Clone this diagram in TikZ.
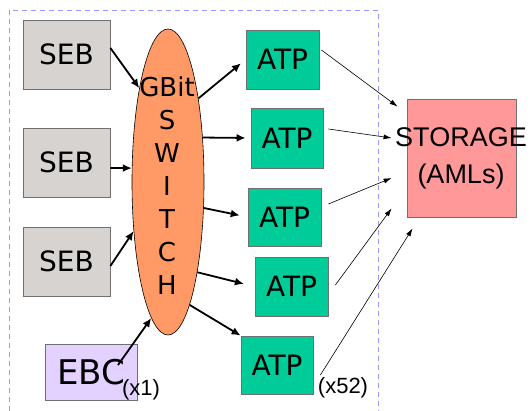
\documentclass[tikz,border=0pt]{standalone}
\usepackage{fontspec}
\setmainfont{DejaVu Sans}
\newfontfamily\arialf{Liberation Sans}
\usetikzlibrary{shapes.geometric,arrows.meta}
\definecolor{sebgray}{HTML}{D6D3D0}
\definecolor{bordgray}{HTML}{707070}
\definecolor{atpgreen}{HTML}{00CC99}
\definecolor{storpink}{HTML}{FF9999}
\definecolor{ebclilac}{HTML}{E3D1FF}
\definecolor{swor}{HTML}{FF9966}
\definecolor{dashblue}{HTML}{9999FF}
\tikzset{
  sebbox/.style={draw=bordgray,line width=0.8pt,fill=sebgray,minimum width=87pt,minimum height=69pt,inner sep=0pt,font=\fontsize{28}{30}\selectfont},
  atpbox/.style={draw=bordgray,line width=0.8pt,fill=atpgreen,minimum width=73pt,minimum height=59pt,inner sep=0pt,font=\fontsize{28}{30}\selectfont},
  thick arrow/.style={line width=1.8pt,-{Latex[length=9pt,width=8pt]}},
  thin arrow/.style={line width=0.6pt,-{Latex[length=8pt,width=5pt]}},
  small lbl/.style={font=\arialf\fontsize{22}{24}\selectfont,inner sep=0pt}
}
\begin{document}
\begin{tikzpicture}[x=1pt,y=-1pt]
\useasboundingbox (0,0) rectangle (530,411);
% dashed frame
\draw[dashblue,dashed,line width=0.9pt,dash pattern=on 5pt off 4pt] (9,420) -- (9,10) -- (378,10) -- (378,420);
% SEBs
\node[sebbox] (seb1) at (66.5,54.5) {SEB};
\node[sebbox] (seb2) at (66.5,162.5) {SEB};
\node[sebbox] (seb3) at (66.5,261.5) {SEB};
% EBC
\node[draw=bordgray,line width=0.8pt,fill=ebclilac,minimum width=92pt,minimum height=56pt,inner sep=0pt,font=\fontsize{34}{36}\selectfont] (ebc) at (91,372) {EBC};
\node[small lbl] (x1) at (141,390) {(x1)};
% switch
\node[ellipse,draw=black,line width=0.6pt,fill=swor,minimum width=72pt,minimum height=306pt,inner sep=0pt] (sw) at (168,182) {};
\node[align=center,inner sep=0pt,font=\fontsize{26}{33}\selectfont] (swt) at (167,186) {GBit\\S\\W\\I\\T\\C\\H};
% ATPs
\node[atpbox] (atp1) at (282.5,59.5) {ATP};
\node[atpbox,minimum width=72pt,minimum height=60pt] (atp2) at (287,138) {ATP};
\node[atpbox,minimum height=58pt] (atp3) at (284.5,217) {ATP};
\node[atpbox] (atp4) at (291.5,286.5) {ATP};
\node[atpbox,minimum width=72pt,minimum height=58pt] (atp5) at (277,365) {ATP};
\node[small lbl] (x52) at (343,388) {(x52)};
% storage
\node[draw=bordgray,line width=0.8pt,fill=storpink,minimum width=109pt,minimum height=118pt,inner sep=0pt] (st) at (461.5,158) {};
\node[align=center,inner sep=0pt,font=\arialf\fontsize{27}{37}\selectfont] (stt) at (461,158) {STORAGE\\(AMLs)};
% inputs to switch
\draw[thick arrow] ([yshift=6.5pt]seb1.east) -- (sw.107.5);
\draw[thick arrow] ([yshift=-5.5pt]seb2.east) -- (sw.159.8);
\draw[thick arrow] ([yshift=-4.5pt]seb3.east) -- (sw.235.8);
\draw[thick arrow] ([shift={(27pt,7pt)}]ebc.center) -- (sw.263.6);
% switch to ATPs
\draw[thick arrow,shorten >=6pt] (sw.70.5) -- (atp1.west);
\draw[thick arrow,shorten >=5pt] (sw.52) -- (atp2.west);
\draw[thick arrow,shorten >=8pt] (sw.324.5) -- (atp3.west);
\draw[thick arrow,shorten >=11pt] (sw.288.8) -- (atp4.west);
\draw[thick arrow] (sw.280.1) -- (atp5.north west);
% ATPs to storage
\draw[thin arrow] ([shift={(2pt,9.5pt)}]atp1.east) -- ([shift={(-9pt,-8pt)}]st.north west);
\draw[thin arrow] ([shift={(5pt,9pt)}]atp2.east) -- ([shift={(-15pt,20pt)}]st.west);
\draw[thin arrow] ([shift={(7pt,13pt)}]atp3.east) -- ([shift={(-15pt,-20pt)}]st.west);
\draw[thin arrow] ([shift={(7pt,1.5pt)}]atp4.east) -- ([shift={(-15pt,9pt)}]st.south west);
\draw[thin arrow] ([shift={(7pt,-10pt)}]atp5.east) -- ([shift={(6pt,-11pt)}]st.south west);
\end{tikzpicture}
\end{document}
